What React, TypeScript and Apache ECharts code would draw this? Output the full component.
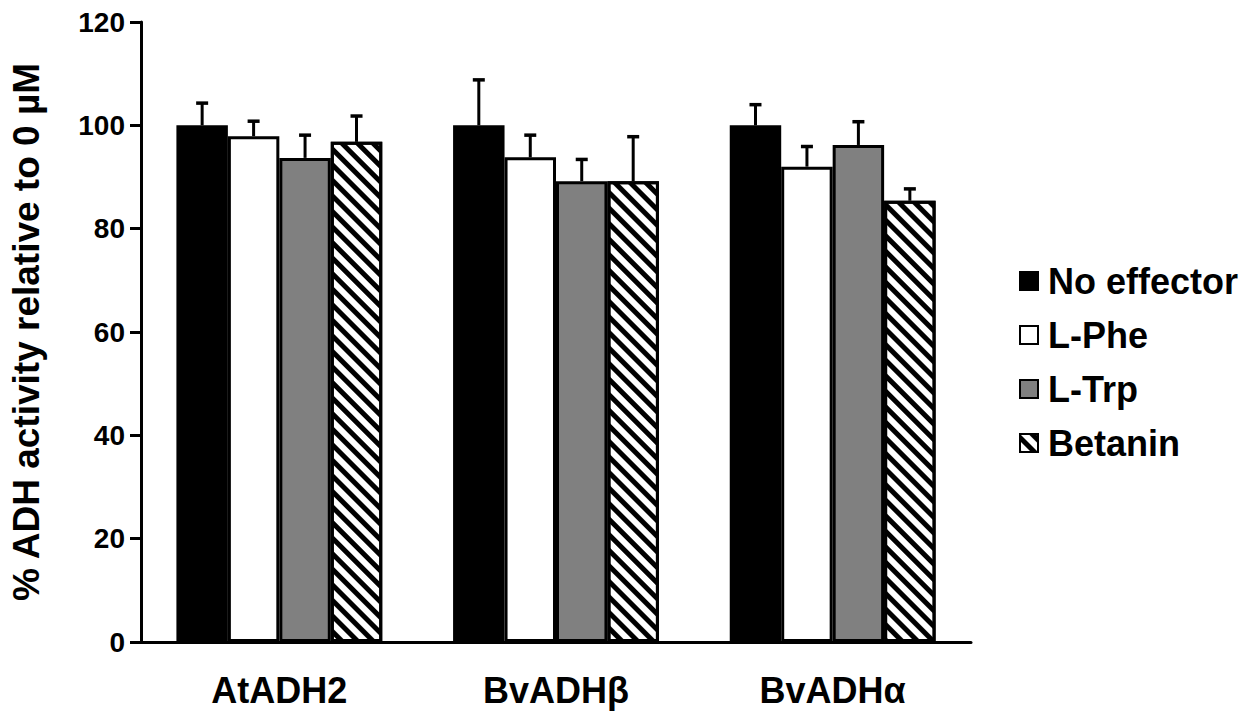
import React, { useEffect, useRef } from "react";
import * as echarts from "echarts";

const categories = ["AtADH2", "BvADHβ", "BvADHα"];
const seriesNames = ["No effector", "L-Phe", "L-Trp", "Betanin"];
const noEffector = [100, 100, 100];
const lPhe = [97.9, 93.8, 92.0];
const lTrp = [93.7, 89.2, 96.2];
const betanin = [96.8, 89.2, 85.4];
const noEffectorErr = [4.3, 8.8, 4.0];
const lPheErr = [2.9, 4.3, 3.9];
const lTrpErr = [4.4, 4.2, 4.5];
const betaninErr = [5.0, 8.6, 2.3];
const yTicks = { min: 0, max: 120, interval: 20 };

const FONT = "'Liberation Sans', Arial, sans-serif";
const CAT_GAP = 0.256;

export default function App() {
  const ref = useRef<HTMLDivElement>(null);
  useEffect(() => {
    if (!ref.current) return;
    const chart = echarts.init(ref.current, undefined, { renderer: "svg" });
    const values = [noEffector, lPhe, lTrp, betanin];
    const errs = [noEffectorErr, lPheErr, lTrpErr, betaninErr];
    const styles: any[] = [
      { color: "#000000", borderColor: "#000", borderWidth: 3 },
      { color: "#ffffff", borderColor: "#000", borderWidth: 3 },
      { color: "#808080", borderColor: "#000", borderWidth: 3 },
      {
        color: "#ffffff",
        borderColor: "#000",
        borderWidth: 3,
        decal: {
          symbol: "rect",
          symbolSize: 1,
          dashArrayX: [1, 0],
          dashArrayY: [5, 6],
          rotation: Math.PI / 4,
          color: "#000000",
          backgroundColor: "#ffffff",
        },
      },
    ];
    const barSeries = seriesNames.map((name, i) => ({
      name,
      type: "bar",
      data: values[i],
      barGap: "0%",
      barCategoryGap: CAT_GAP * 100 + "%",
      itemStyle: styles[i],
      z: 2,
    }));
    const errSeries = seriesNames.map((name, i) => ({
      name: "err" + i,
      type: "custom",
      z: 5,
      data: categories.map((_, c) => [c, values[i][c], errs[i][c]]),
      renderItem: (params: any, api: any) => {
        const c = api.value(0);
        const v = api.value(1);
        const e = api.value(2);
        const base = api.coord([c, v]);
        const top = api.coord([c, v + e]);
        const band = api.size([1, 0])[0];
        const bw = (band * (1 - CAT_GAP)) / 4;
        const cx = base[0] + (i - 1.5) * bw;
        const st = { stroke: "#000", lineWidth: 3 };
        return {
          type: "group",
          children: [
            { type: "line", shape: { x1: cx, y1: base[1], x2: cx, y2: top[1] }, style: st },
            { type: "line", shape: { x1: cx - 6, y1: top[1], x2: cx + 6, y2: top[1] }, style: { stroke: "#000", lineWidth: 3.5 } },
          ],
        };
      },
    }));
    chart.setOption({
      animation: false,
      backgroundColor: "#ffffff",
      grid: { left: 139, right: 286, top: 22, bottom: 75, containLabel: false },
      legend: {
        orient: "vertical",
        left: 1014,
        top: 256,
        data: seriesNames,
        icon: "rect",
        itemWidth: 18,
        itemHeight: 18,
        itemGap: 14,
        textStyle: { fontFamily: FONT, fontWeight: "bold", fontSize: 36, color: "#000", lineHeight: 40, padding: [0, 0, 0, 5] },
      },
      xAxis: {
        type: "category",
        data: categories,
        axisLine: { lineStyle: { color: "#000", width: 3 } },
        axisTick: { show: false },
        axisLabel: { fontFamily: FONT, fontWeight: "bold", fontSize: 36, color: "#000", margin: 30 },
      },
      yAxis: {
        type: "value",
        min: yTicks.min,
        max: yTicks.max,
        interval: yTicks.interval,
        name: "% ADH activity relative to 0 µM",
        nameLocation: "middle",
        nameGap: 96,
        nameTextStyle: { fontFamily: FONT, fontWeight: "bold", fontSize: 37, color: "#000" },
        axisLine: { show: true, lineStyle: { color: "#000", width: 3 } },
        axisTick: { show: true, length: 11, lineStyle: { color: "#000", width: 3 } },
        splitLine: { show: false },
        axisLabel: { fontFamily: FONT, fontWeight: "bold", fontSize: 28, color: "#000", margin: 16 },
      },
      series: [...barSeries, ...errSeries],
    });
    return () => chart.dispose();
  }, []);
  return <div ref={ref} style={{ position: "fixed", left: 0, top: 0, width: 1257, height: 717 }} />;
}
